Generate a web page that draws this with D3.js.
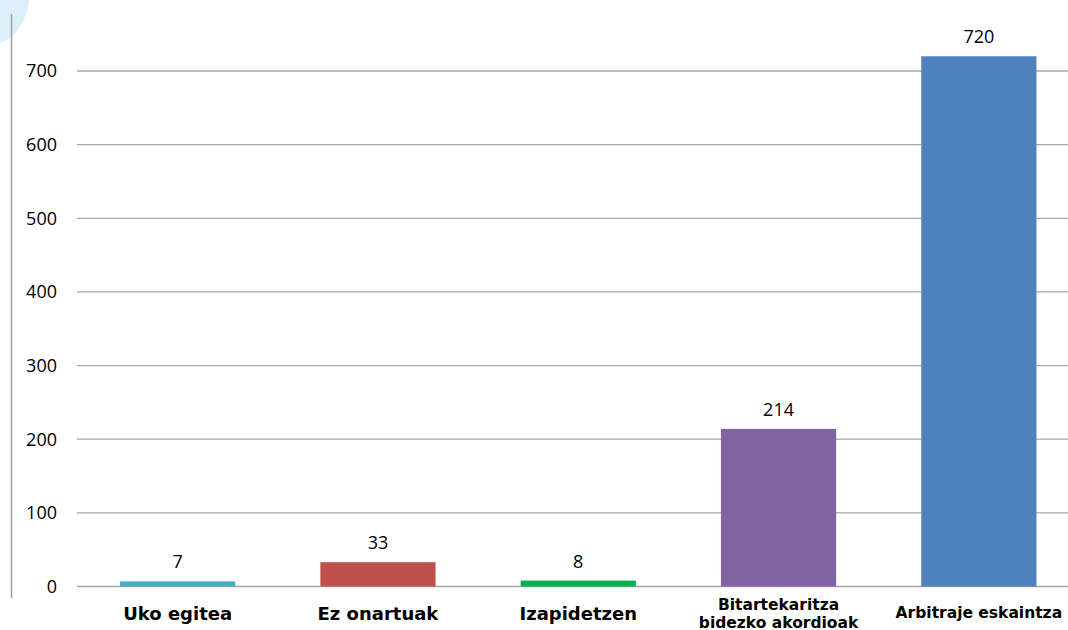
<!DOCTYPE html>
<html>
<head>
<meta charset="utf-8">
<script src="https://cdn.jsdelivr.net/npm/d3@7/dist/d3.min.js"></script>
<style>
  html, body { margin: 0; padding: 0; background: #fff; overflow: hidden; }
  svg { display: block; }
  .tick-label { font-family: "Open Sans", "Noto Sans", sans-serif; font-size: 18px; fill: #000; }
  .value-label { font-family: "Open Sans", "Noto Sans", sans-serif; font-size: 18px; fill: #000; }
  .cat-label { font-family: "DejaVu Sans", sans-serif; font-weight: bold; fill: #000; }
</style>
</head>
<body>
<div id="chart"></div>
<script>
// Datuak
const categories = ['Uko egitea', 'Ez onartuak', 'Izapidetzen', 'Bitartekaritza bidezko akordioak', 'Arbitraje eskaintza'];
const values = [7, 33, 8, 214, 720];
const barColors = ['#4bacc6', '#c0504d', '#00b050', '#8064a2', '#4f81bd'];
const yTicks = [0, 100, 200, 300, 400, 500, 600, 700];
// kategoria-etiketak lerroka banatuta
const catLines = [['Uko egitea'], ['Ez onartuak'], ['Izapidetzen'], ['Bitartekaritza', 'bidezko akordioak'], ['Arbitraje eskaintza']];

const width = 1068;
const height = 630;

const svg = d3.select('#chart')
  .append('svg')
  .attr('width', width)
  .attr('height', height);

// goiko ezkerreko apaingarria
svg.append('ellipse')
  .attr('cx', -10)
  .attr('cy', -10)
  .attr('rx', 40)
  .attr('ry', 55)
  .attr('fill', '#dcf0fa');

// ezkerreko marra bertikala
svg.append('line')
  .attr('x1', 11.5).attr('x2', 11.5)
  .attr('y1', 14).attr('y2', 598)
  .attr('stroke', '#a0a0a0')
  .attr('stroke-width', 1.5);

const x = d3.scaleBand()
  .domain(categories)
  .range([77.5, 1079])
  .paddingInner(0.425)
  .paddingOuter(0.2125);

const y = d3.scaleLinear()
  .domain([0, 700])
  .range([586.5, 71]);

// sareta
svg.append('g')
  .selectAll('line')
  .data(yTicks)
  .join('line')
  .attr('x1', 77)
  .attr('x2', width)
  .attr('y1', (d) => y(d))
  .attr('y2', (d) => y(d))
  .attr('stroke', '#a6a6a6')
  .attr('stroke-width', 1.3);

// ardatzaren etiketak
svg.append('g')
  .selectAll('text')
  .data(yTicks)
  .join('text')
  .attr('class', 'tick-label')
  .attr('x', 57)
  .attr('y', (d) => y(d))
  .attr('dy', '0.36em')
  .attr('text-anchor', 'end')
  .text((d) => d);

// barrak
svg.append('g')
  .selectAll('rect')
  .data(values)
  .join('rect')
  .attr('x', (d, i) => x(categories[i]))
  .attr('width', x.bandwidth())
  .attr('y', (d) => y(d))
  .attr('height', (d) => y(0) - y(d))
  .attr('fill', (d, i) => barColors[i]);

// balioak
svg.append('g')
  .selectAll('text')
  .data(values)
  .join('text')
  .attr('class', 'value-label')
  .attr('x', (d, i) => x(categories[i]) + x.bandwidth() / 2)
  .attr('y', (d) => y(d) - 13)
  .attr('text-anchor', 'middle')
  .text((d) => d);

// kategoriak
const small = (d) => d.length > 1 || d[0].length > 15;
const cats = svg.append('g')
  .selectAll('text')
  .data(catLines)
  .join('text')
  .attr('class', 'cat-label')
  .attr('text-anchor', 'middle')
  .attr('font-size', (d) => (small(d) ? 15.5 : 18))
  .attr('x', (d, i) => x(categories[i]) + x.bandwidth() / 2)
  .attr('y', (d) => (d.length > 1 ? 610 : small(d) ? 618 : 620));

cats.selectAll('tspan')
  .data((d) => d)
  .join('tspan')
  .attr('x', function () { return d3.select(this.parentNode).attr('x'); })
  .attr('dy', (d, i) => (i === 0 ? 0 : 17.5))
  .text((d) => d);
</script>
</body>
</html>
